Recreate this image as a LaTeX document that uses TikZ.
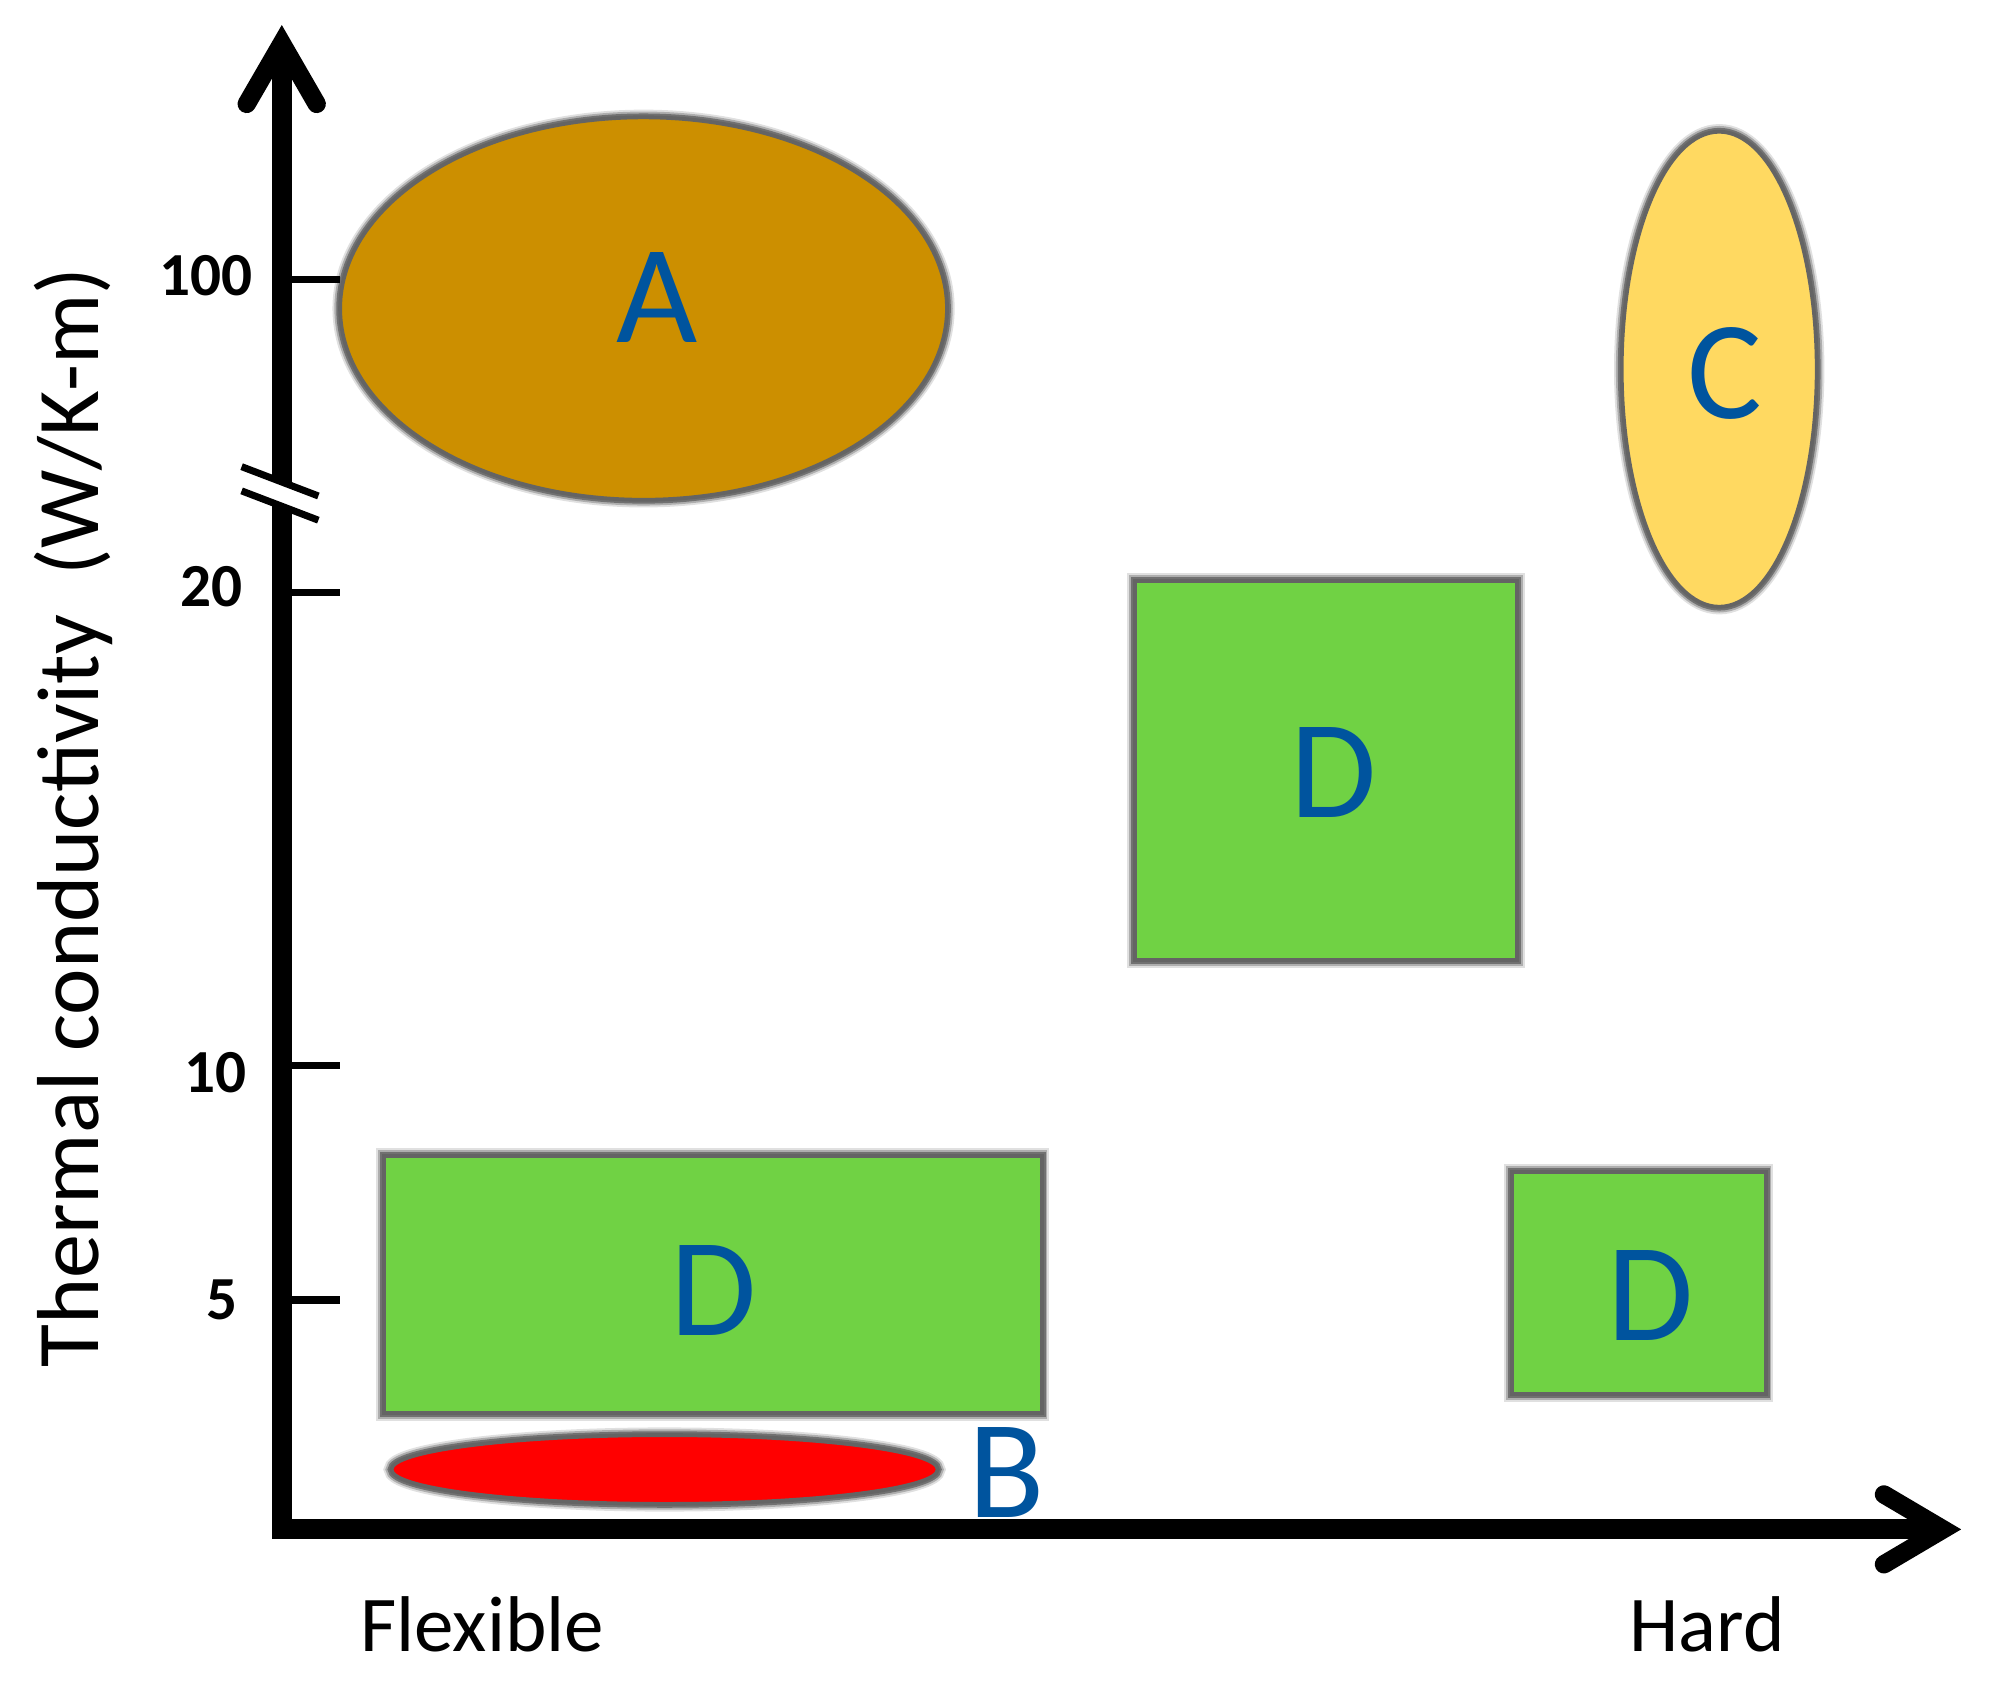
\documentclass[tikz,border=0pt]{standalone}
\usepackage{fontspec}
\setmainfont{Carlito}
\usetikzlibrary{shapes.geometric}
\definecolor{orangeA}{RGB}{204,143,0}
\definecolor{yellowC}{RGB}{255,217,97}
\definecolor{greenD}{RGB}{112,210,68}
\definecolor{redB}{RGB}{255,0,0}
\definecolor{letterblue}{RGB}{0,84,158}
\definecolor{rimgray}{RGB}{100,100,100}
\begin{document}
\begin{tikzpicture}[x=0.5pt,y=-0.5pt,
  rim/.style={draw=rimgray, line width=1.5pt,
     preaction={draw=black, opacity=0.12, line width=6pt},
     preaction={draw=black, opacity=0.22, line width=4.5pt},
     preaction={draw=black, opacity=0.35, line width=3pt}},
  blob/.style={ellipse, rim, inner sep=0pt, outer sep=0pt},
  panel/.style={rectangle, rim, inner sep=0pt, outer sep=0pt},
  letter/.style={text=letterblue, font=\fontsize{55pt}{60pt}\selectfont, inner sep=0pt},
  ticklab/.style={font=\bfseries\fontsize{24pt}{28pt}\selectfont, inner sep=0pt, anchor=base east},
  axislab/.style={font=\fontsize{31pt}{36pt}\selectfont, inner sep=0pt, anchor=base},
  axisline/.style={line width=7.85pt, line join=miter},
  headline/.style={line width=7.2pt, line cap=round, line join=miter},
  tickline/.style={line width=2.75pt},
  breakline/.style={line width=2.75pt},
]
\useasboundingbox (0,0) rectangle (1560,1322.4);
\fill[white] (0,0) rectangle (1560,1322.4);

% axes
\coordinate (O) at (221,1199.5);
\coordinate (ytop) at (221,40);
\coordinate (ytip) at (221,34);
\coordinate (xend) at (1518,1199.5);
\coordinate (xtip) at (1524,1199.5);
\coordinate (yw1) at (193.5,81.5);
\coordinate (yw2) at (248.4,81.5);
\coordinate (xw1) at (1477.6,1172.1);
\coordinate (xw2) at (1477.6,1226.9);
\draw[axisline] (ytop) -- (O) -- (xend);
\draw[headline] (yw1) -- (ytip) -- (yw2);
\draw[headline] (xw1) -- (xtip) -- (xw2);

% ticks
\foreach \yy/\nm in {219.5/t100, 465/t20, 835.5/t10, 1019.6/t5}{
  \coordinate (\nm a) at (221,\yy);
  \coordinate (\nm b) at (266.7,\yy);
  \draw[tickline] (\nm a) -- (\nm b);
}
\node[ticklab] (l100) at (198.5,231.8) {100};
\node[ticklab] (l20) at (190.8,476) {20};
\node[ticklab] (l10) at (193.5,856.7) {10};
\node[ticklab] (l5) at (187,1034.8) {5};

% axis break
\coordinate (wb1) at (205,381.4);
\coordinate (wb2) at (237,393.6);
\draw[white, line width=6.5pt] (wb1) -- (wb2);
\coordinate (b1s) at (189.5,366);
\coordinate (b1e) at (249.7,389);
\coordinate (b2s) at (189.5,385);
\coordinate (b2e) at (249.7,408);
\draw[breakline] (b1s) -- (b1e);
\draw[breakline] (b2s) -- (b2e);

% axis labels
\node[font=\fontsize{34.5pt}{40pt}\selectfont, rotate=90, anchor=base west, inner sep=0pt] (ylab) at (77,1073) {Thermal conductivity~~(W/K-m)};
\node[axislab] (flex) at (378.2,1295.4) {Flexible};
\node[axislab] (hard) at (1339,1295.4) {Hard};

% regions
\node[blob, fill=orangeA, minimum width=238pt, minimum height=150pt] (A) at (504.75,242) {};
\node[blob, fill=yellowC, minimum width=76.5pt, minimum height=186.3pt] (C) at (1348.4,289.6) {};
\node[panel, fill=greenD, minimum width=149.9pt, minimum height=148.8pt] (D1) at (1040.1,604.2) {};
\node[panel, fill=greenD, minimum width=258pt, minimum height=100.9pt] (D2) at (559,1007.6) {};
\node[panel, fill=greenD, minimum width=99.65pt, minimum height=87.15pt] (D3) at (1285.25,1006.15) {};
\node[blob, fill=redB, minimum width=214.25pt, minimum height=27pt] (B) at (521.25,1152.55) {};

% letters
\node[letter] (lA) at (515,233.5) {A};
\node[letter] (lC) at (1352.7,292.8) {C};
\node[letter] (lD1) at (1046,606) {D};
\node[letter] (lD2) at (560,1012) {D};
\node[letter] (lD3) at (1294.8,1016) {D};
\node[letter] (lB) at (789.5,1155) {B};
\end{tikzpicture}
\end{document}
